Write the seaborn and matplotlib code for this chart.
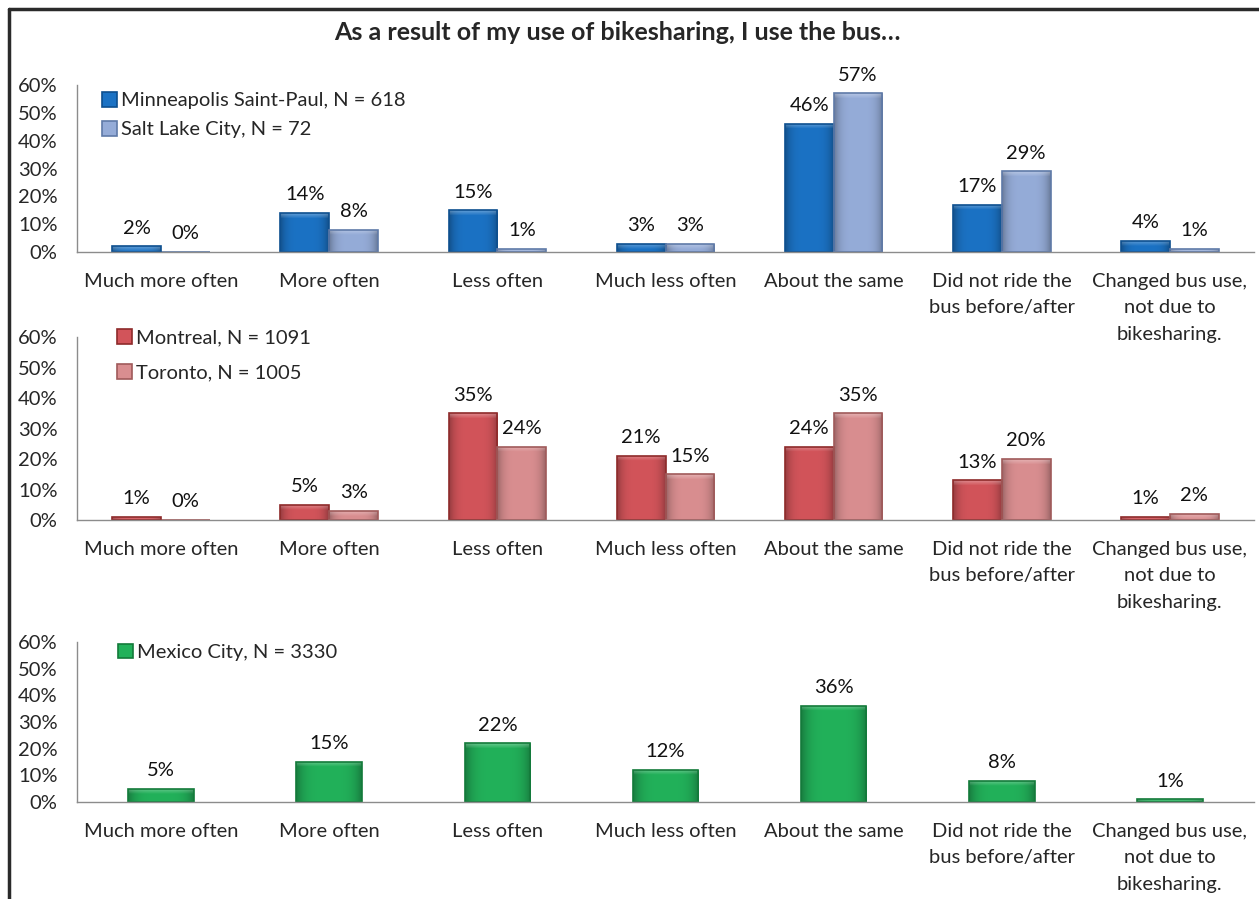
import matplotlib
matplotlib.use('Agg')
import matplotlib.pyplot as plt
import matplotlib.colors as mcolors
from matplotlib.lines import Line2D
import seaborn as sns
import pandas as pd
import numpy as np

# 数据
categories = ["Much more often", "More often", "Less often", "Much less often",
              "About the same", "Did not ride the\nbus before/after",
              "Changed bus use,\nnot due to\nbikesharing."]

msp_label = "Minneapolis Saint-Paul, N = 618"
msp = [2, 14, 15, 3, 46, 17, 4]
slc_label = "Salt Lake City, N = 72"
slc = [0, 8, 1, 3, 57, 29, 1]

mtl_label = "Montreal, N = 1091"
mtl = [1, 5, 35, 21, 24, 13, 1]
tor_label = "Toronto, N = 1005"
tor = [0, 3, 24, 15, 35, 20, 2]

mex_label = "Mexico City, N = 3330"
mex = [5, 15, 22, 12, 36, 8, 1]

title = "As a result of my use of bikesharing, I use the bus…"

sns.set_style("white")
plt.rcParams['font.family'] = ['Lato', 'DejaVu Sans']

W, H = 1259, 899
fig = plt.figure(figsize=(W / 100, H / 100), dpi=100)

FS = 14.5
GRAY = '#8c8c8c'


def shade(ax, bar, base):
    """给柱子加上类似Excel的渐变效果"""
    x, y = bar.get_x(), bar.get_y()
    w, h = bar.get_width(), bar.get_height()
    if h <= 0:
        return
    rgb = np.array(mcolors.to_rgb(base))
    xs = np.linspace(-1, 1, 40)
    prof = 1 - 0.28 * np.abs(xs) ** 4
    p0 = ax.transData.transform((0, y))[1]
    p1 = ax.transData.transform((0, y + h))[1]
    n = max(int(round(abs(p1 - p0))), 1)
    img = rgb[None, None, :] * prof[None, :, None] * np.ones((n, 1, 1))
    # 顶部柔和高光
    k = min(6, n)
    fade = np.linspace(0.3, 0.0, k)[:, None, None]
    img[:k] = img[:k] + (1 - img[:k]) * fade
    img = np.clip(img, 0, 1)
    im = ax.imshow(img, extent=[x, x + w, y, y + h], aspect='auto', origin='upper',
                   interpolation='bilinear', zorder=bar.get_zorder() + 0.1)
    im.set_clip_path(bar)
    bar.set_facecolor('none')
    bar.set_zorder(bar.get_zorder() + 0.2)


# (系列, 颜色, 边框颜色, 像素位置[top, bottom], 柱宽, 图例位置, 图例行距)
panels = [
    ([(msp_label, msp), (slc_label, slc)],
     ['#1b72c4', '#95acd8'], ['#0d4f8f', '#5f7aa8'],
     (85, 252), 0.58, (0.021, 0.958), 0.58),
    ([(mtl_label, mtl), (tor_label, tor)],
     ['#d2545a', '#d98e90'], ['#8e2a2a', '#a05a5a'],
     (337, 520), 0.58, (0.034, 1.044), 0.88),
    ([(mex_label, mex)],
     ['#22b15a'], ['#137a3a'],
     (642, 802), 0.39, (0.035, 0.99), 0.58),
]

x0, x1 = 77, 1254
for series, colors, edges, (ytop, ybot), width, lg_pos, lg_space in panels:
    ax = fig.add_axes([x0 / W, 1 - ybot / H, (x1 - x0) / W, (ybot - ytop) / H])
    ax.patch.set_alpha(0)  # 透明背景，避免遮住上一个子图的标签
    df = pd.DataFrame({
        'category': [c for _ in series for c in categories],
        'value': [v for _, vals in series for v in vals],
        'city': [name for name, vals in series for _ in vals],
    })
    names = [name for name, _ in series]
    sns.barplot(data=df, x='category', y='value', hue='city', order=categories,
                hue_order=names, palette=colors, width=width, ax=ax,
                saturation=1, linewidth=1.2, legend=True)

    ax.set_xlim(-0.5, 6.5)
    ax.set_ylim(0, 60)

    for cont, ec, fc in zip(ax.containers, edges, colors):
        for bar in cont:
            bar.set_edgecolor(ec)
            shade(ax, bar, fc)
        ax.bar_label(cont, fmt='%.0f%%', padding=7, fontsize=FS, color='#111111')

    ax.set_xlim(-0.5, 6.5)
    ax.set_ylim(0, 60)
    ax.set_yticks(range(0, 61, 10))
    ax.set_yticklabels([f"{v}%" for v in range(0, 61, 10)], fontsize=FS)
    ax.set_xticks(np.arange(-0.5, 7, 1))
    ax.set_xticklabels([])
    ax.set_xticks(range(7), minor=True)
    ax.set_xticklabels(categories, minor=True, fontsize=FS, linespacing=1.68, va='top')
    ax.tick_params(axis='x', which='major', length=6, direction='out', color=GRAY, width=1)
    ax.tick_params(axis='x', which='minor', length=0, pad=15)
    ax.tick_params(axis='y', length=5, direction='out', color=GRAY, width=1, pad=9)
    ax.set_xlabel('')
    ax.set_ylabel('')
    for s in ['top', 'right']:
        ax.spines[s].set_visible(False)
    for s in ['left', 'bottom']:
        ax.spines[s].set_color(GRAY)
        ax.spines[s].set_linewidth(1)
        ax.spines[s].set_zorder(5)

    handles, labels = ax.get_legend_handles_labels()
    for h, ec in zip(handles, edges):
        h.set_edgecolor(ec)
    ax.legend(handles, labels, loc='upper left', bbox_to_anchor=lg_pos,
              frameon=False, fontsize=FS, handlelength=0.75, handleheight=0.75,
              handletextpad=0.2, labelspacing=lg_space, borderaxespad=0, borderpad=0)

fig.text(0.49, 1 - 32 / H, title, ha='center', va='center', fontsize=18, fontweight='bold')

# 外框
fig.add_artist(Line2D([9 / W, 9 / W], [0, 1 - 9 / H], transform=fig.transFigure,
                      color='#2a2a2a', lw=2.5))
fig.add_artist(Line2D([9 / W, 1], [1 - 9 / H, 1 - 9 / H], transform=fig.transFigure,
                      color='#2a2a2a', lw=2.5))

fig.savefig('out.png', dpi=100)
plt.close()
